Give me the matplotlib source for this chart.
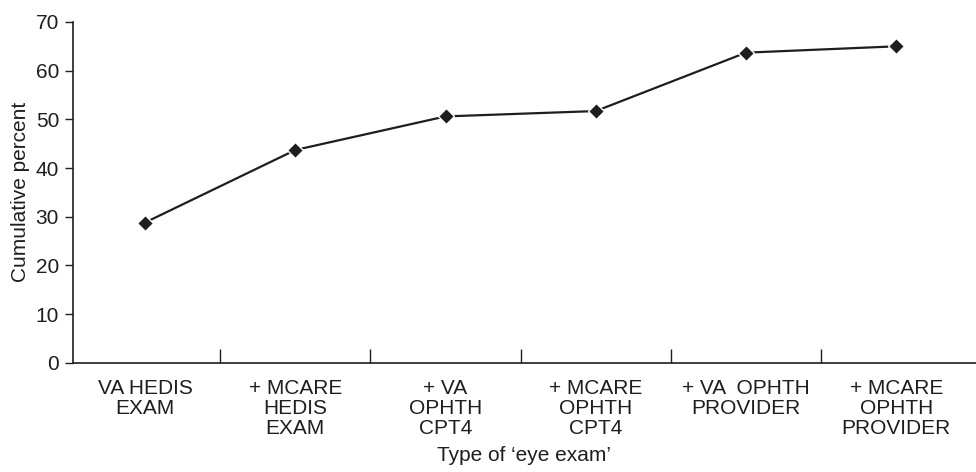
import matplotlib
matplotlib.use("Agg")
import matplotlib.pyplot as plt

categories = [
    "VA HEDIS\nEXAM",
    "+ MCARE\nHEDIS\nEXAM",
    "+ VA\nOPHTH\nCPT4",
    "+ MCARE\nOPHTH\nCPT4",
    "+ VA  OPHTH\nPROVIDER",
    "+ MCARE\nOPHTH\nPROVIDER",
]
cumulative_percent = [28.8, 43.7, 50.6, 51.7, 63.7, 65.0]
y_ticks = [0, 10, 20, 30, 40, 50, 60, 70]

plt.rcParams['font.family'] = ['Liberation Sans', 'DejaVu Sans']
ink = "#1e1e1e"
fs = 15

fig = plt.figure(figsize=(9.76, 4.72), dpi=100)
ax = fig.add_axes([0.0748, 0.2316, 0.925, 0.7218])

x = list(range(len(categories)))
ax.plot(x, cumulative_percent, color=ink, lw=1.6, marker="D", ms=8,
        mfc=ink, mec="white", mew=1.0, zorder=3)

ax.set_ylim(0, 70)
ax.set_xlim(-0.48, 5.53)
ax.set_yticks(y_ticks)
ax.tick_params(axis="y", direction="out", length=6, width=1.0, colors=ink,
               labelsize=fs, pad=4)

# category labels centred, tick marks on the boundaries between them
ax.set_xticks(x)
ax.set_xticklabels(categories, fontsize=fs, linespacing=1.05, color=ink)
ax.tick_params(axis="x", which="major", length=0, pad=12)
ax.set_xticks([i + 0.5 for i in range(len(categories) - 1)], minor=True)
ax.tick_params(axis="x", which="minor", direction="in", length=10, width=1.0,
               colors=ink)

for side in ("top", "right"):
    ax.spines[side].set_visible(False)
for side in ("left", "bottom"):
    ax.spines[side].set_linewidth(1.2)
    ax.spines[side].set_color(ink)

ax.set_ylabel("Cumulative percent", fontsize=fs, color=ink)
ax.yaxis.set_label_coords(-0.048, 0.5)
ax.set_xlabel("Type of \u2018eye exam\u2019", fontsize=fs, color=ink)
ax.xaxis.set_label_coords(0.5, -0.245)

fig.savefig("out.png", dpi=100)
